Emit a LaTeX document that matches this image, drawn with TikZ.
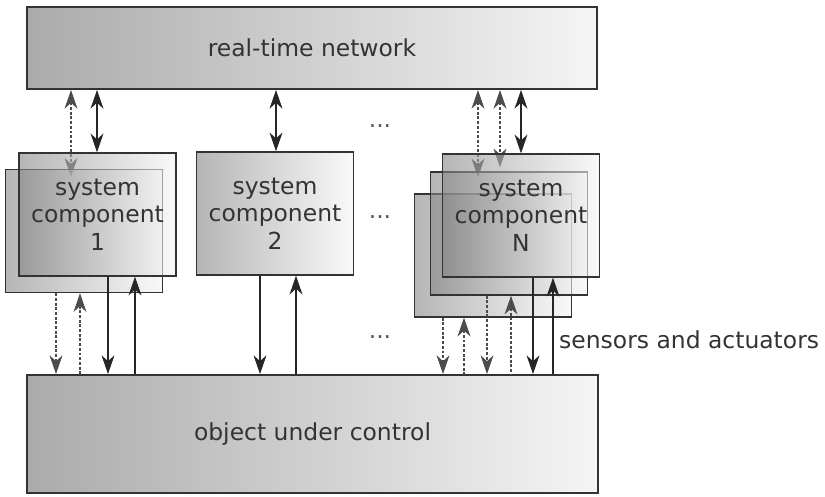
\documentclass[tikz,border=0pt]{standalone}
\usepackage{fontspec}
\setmainfont{DejaVu Sans}
\usetikzlibrary{arrows.meta,backgrounds}

\begin{document}
\begin{tikzpicture}[x=0.03cm,y=-0.03cm,>={Stealth[length=16pt,width=11pt,inset=5pt]}]
  \tikzset{ bar/.style={draw=black!80,line width=1.6pt,left color=black!33,right color=black!4,
      text=black!80,font=\fontsize{20}{24}\selectfont},
    comp/.style={draw=black!80,line width=1.2pt,left color=black!48,right color=black!4,
      fill opacity=0.6,text opacity=1,minimum width=4.7cm,minimum height=3.69cm,
      align=center,text=black!80,font=\fontsize{20}{23.5}\selectfont},
    ln/.style={black!85,line width=0.9pt},
    dl/.style={black!70,line width=0.9pt,dash pattern=on 2.5pt off 1.5pt},
    dots/.style={text=black!65,font=\fontsize{20}{24}\selectfont},
  }
  \useasboundingbox (0,0) rectangle (825,496);

  \node[bar,minimum width=17.1cm,minimum height=2.46cm] (net) at (312,48) {real-time network};
  \node[bar,minimum width=17.13cm,minimum height=3.54cm] (obj) at (312.5,434) {object under control};

  % system components (stacked copies behind)
  \node[comp] (c1b) at (84,231) {};
  \node[comp] (c1) at (97.5,214.5) {system\\component\\1};
  \node[comp] (c2) at (275,213.5) {system\\component\\2};
  \node[comp] (cnc) at (493,255.5) {};
  \node[comp] (cnb) at (509,233.5) {};
  \node[comp] (cn) at (521,215.5) {system\\component\\N};

  \node[dots] (d1) at (380,126) {...};
  \node[dots] (d2) at (380,217) {...};
  \node[dots] (d3) at (380,337) {...};
  \node[anchor=base west,inner sep=0pt,text=black!80,font=\fontsize{20}{24}\selectfont] (sa) at (559,348) {sensors and actuators};

  % links to the network
  \begin{scope}[on background layer]
    \draw[dl,<->] (net.south -| 71,0) -- ([yshift=-0.24cm]c1b.north -| 71,0);
    \draw[ln,<->] (net.south -| 97,0) -- (c1.north -| 97,0);
    \draw[ln,<->] (net.south -| 276,0) -- (c2.north -| 276,0);
    \draw[dl,<->] (net.south -| 478,0) -- ([yshift=-0.18cm]cnb.north -| 478,0);
    \draw[dl,<->] (net.south -| 500,0) -- ([yshift=-0.42cm]cn.north -| 500,0);
    \draw[ln,<->] (net.south -| 521,0) -- (cn.north -| 521,0);
  \end{scope}

  % links to the object
  \draw[dl,->] (c1b.south -| 56,0) -- (obj.north -| 56,0);
  \draw[dl,<-] (c1b.south -| 80,0) -- (obj.north -| 80,0);
  \draw[ln,->] (c1.south -| 108,0) -- (obj.north -| 108,0);
  \draw[ln,<-] (c1.south -| 135,0) -- (obj.north -| 135,0);
  \draw[ln,->] (c2.south -| 260,0) -- (obj.north -| 260,0);
  \draw[ln,<-] (c2.south -| 296,0) -- (obj.north -| 296,0);
  \draw[dl,->] (cnc.south -| 443,0) -- (obj.north -| 443,0);
  \draw[dl,<-] (cnc.south -| 464,0) -- (obj.north -| 464,0);
  \draw[dl,->] (cnb.south -| 487,0) -- (obj.north -| 487,0);
  \draw[dl,<-] (cnb.south -| 511,0) -- (obj.north -| 511,0);
  \draw[ln,->] (cn.south -| 533,0) -- (obj.north -| 533,0);
  \draw[ln,<-] (cn.south -| 553,0) -- (obj.north -| 553,0);
\end{tikzpicture}
\end{document}
